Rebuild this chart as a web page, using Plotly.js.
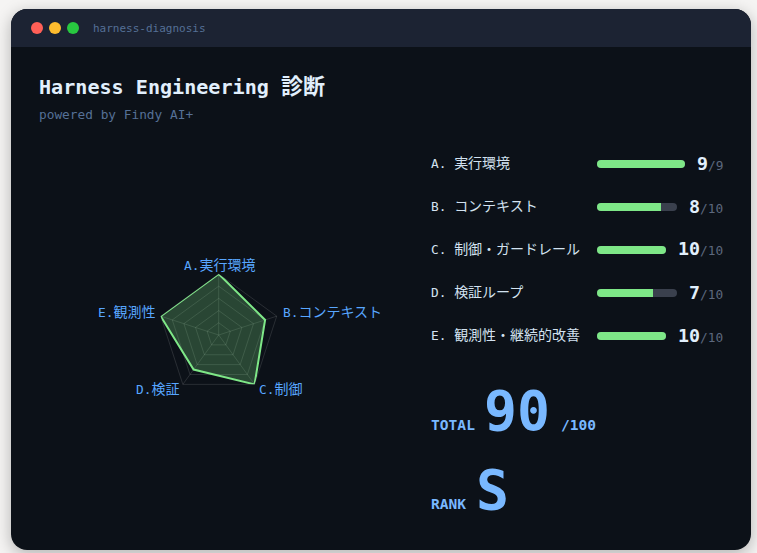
<!DOCTYPE html>
<html><head><meta charset="utf-8">
<script src="https://cdn.plot.ly/plotly-3.0.1.min.js"></script>
<style>
html,body{margin:0;padding:0;background:#f5f4f3;width:757px;height:553px;overflow:hidden}
#card{position:absolute;left:11px;top:9px;width:740px;height:541px;border-radius:16px;background:#0c1118;overflow:hidden}
#shadowbox{position:absolute;left:11px;top:9px;width:740px;height:541px;border-radius:16px;box-shadow:0 4px 16px rgba(0,0,0,.28)}
#bar{height:38px;background:#1c2333}
#plot{position:absolute;left:0;top:0;width:757px;height:553px}
</style></head><body>
<div id="shadowbox"></div>
<div id="card"><div id="bar"></div></div>
<div id="plot"></div>
<script>
const W=757,H=553;
const radarLabels=['A.実行環境','B.コンテキスト','C.制御','D.検証','E.観測性'];
const rowLabels=['A. 実行環境','B. コンテキスト','C. 制御・ガードレール','D. 検証ループ','E. 観測性・継続的改善'];
const scores=[9,8,10,7,10];
const maxima=[9,10,10,10,10];
const trackLengths=[88,80,69,80,69];
const totalScore='90',totalMax='/100',rank='S';
const mono='"DejaVu Sans Mono","Noto Sans CJK JP",monospace';
const C={green:'#7ee787',track:'#3a404d',accent:'#79b8ff',label:'#58a6ff',text:'#e1effc',row:'#d3e2f0',dim:'#557096',sub:'#5c687e'};
const px=(x)=>x/W, py=(y)=>1-y/H;
const cjk=(t,size)=>t.replace(/[\u3000-\u9fff]+/g,m=>'<span style="font-size:'+size+'px">'+m+'</span>');
const ratio=scores.map((s,i)=>s/maxima[i]);
const fillLen=ratio.map((r,i)=>r*trackLengths[i]);
const rows=rowLabels.map((_,i)=>i);
const partial=rows.filter(i=>ratio[i]<1);
const barW=8/43, capLen=8;
const hb=(y,base,x,color,r)=>({type:'bar',orientation:'h',y:y,base:base,x:x,width:barW,marker:{color:color,cornerradius:r,line:{width:0}},hoverinfo:'skip',showlegend:false});
const traces=[
 {type:'scatterpolar',r:[...ratio,ratio[0]],theta:[...radarLabels,radarLabels[0]],mode:'lines',fill:'toself',
  fillcolor:'rgba(126,231,135,0.25)',line:{color:C.green,width:2,shape:'linear'},hoverinfo:'skip',showlegend:false,subplot:'polar'},
 hb(rows,rows.map(()=>0.001),trackLengths,C.track,4),
 hb(rows,rows.map(()=>0.001),fillLen,C.green,4),
 hb(partial,partial.map(i=>fillLen[i]-capLen),partial.map(()=>capLen),C.green,0)
];
const ann=(x,y,text,size,color,opts={})=>Object.assign({xref:'paper',yref:'paper',x:px(x),y:py(y),text:text,showarrow:false,
  xanchor:'left',yanchor:'middle',align:'left',font:{family:mono,size:size,color:color},borderpad:0,borderwidth:0},opts);
const rowY=[163,206,249,292,335];
const radarPos=[[184,265],[283,312],[259,389],[136,389],[98,312]];
const annotations=[
 ann(93,28,'harness-diagnosis',11,C.dim),
 ann(39,86,'<b>'+cjk('Harness Engineering 診断',22)+'</b>',20.1,C.text),
 ann(39,115,'powered by Findy AI+',12.8,C.dim),
 ...radarLabels.map((t,i)=>ann(radarPos[i][0],radarPos[i][1],cjk(t,14),12.8,C.label)),
 ...rowLabels.map((t,i)=>ann(431,rowY[i],cjk(t,14),12.8,C.row)),
 ...scores.map((s,i)=>ann(723,rowY[i],'<b>'+s+'</b><span style="font-size:12.8px;color:'+C.sub+'">/'+maxima[i]+'</span>',18.3,C.text,{xanchor:'right',align:'right'})),
 ann(431,424,'<b>TOTAL</b>',14.6,C.accent),
 ann(484,411,'<b>'+totalScore+'</b>',54.8,C.accent),
 ann(561,424,'<b>'+totalMax+'</b>',14.6,C.accent),
 ann(431,503,'<b>RANK</b>',14.6,C.accent),
 ann(476,490,'<b>'+rank+'</b>',54.8,C.accent)
];
const dots=[['#ff5f57',37],['#febc2e',55],['#28c840',73]].map(([c,x])=>({type:'circle',xref:'paper',yref:'paper',
  x0:px(x-6),x1:px(x+6),y0:py(34),y1:py(22),fillcolor:c,line:{width:0},layer:'below'}));
const layout={width:W,height:H,margin:{l:0,r:0,t:0,b:0,pad:0},paper_bgcolor:'rgba(0,0,0,0)',plot_bgcolor:'rgba(0,0,0,0)',
 showlegend:false,barmode:'overlay',
 polar:{domain:{x:[px(157.7),px(279.7)],y:[py(396),py(274)]},bgcolor:'rgba(0,0,0,0)',gridshape:'linear',
  radialaxis:{range:[0,1],tickvals:[0.2,0.4,0.6,0.8,1],showticklabels:false,ticks:'',showline:false,gridcolor:'rgba(255,255,255,0.12)',gridwidth:1,angle:90},
  angularaxis:{type:'category',categoryorder:'array',categoryarray:radarLabels,direction:'clockwise',rotation:90,
   showticklabels:false,ticks:'',showline:true,linecolor:'rgba(255,255,255,0.12)',gridcolor:'rgba(255,255,255,0.12)'}},
 xaxis:{domain:[px(597),px(685)],range:[0,88],visible:false,fixedrange:true},
 yaxis:{domain:[py(357.5),py(142.5)],range:[4.5,-0.5],visible:false,fixedrange:true},
 shapes:dots,annotations:annotations};
Plotly.newPlot('plot',traces,layout,{displayModeBar:false,staticPlot:true});
</script></body></html>
